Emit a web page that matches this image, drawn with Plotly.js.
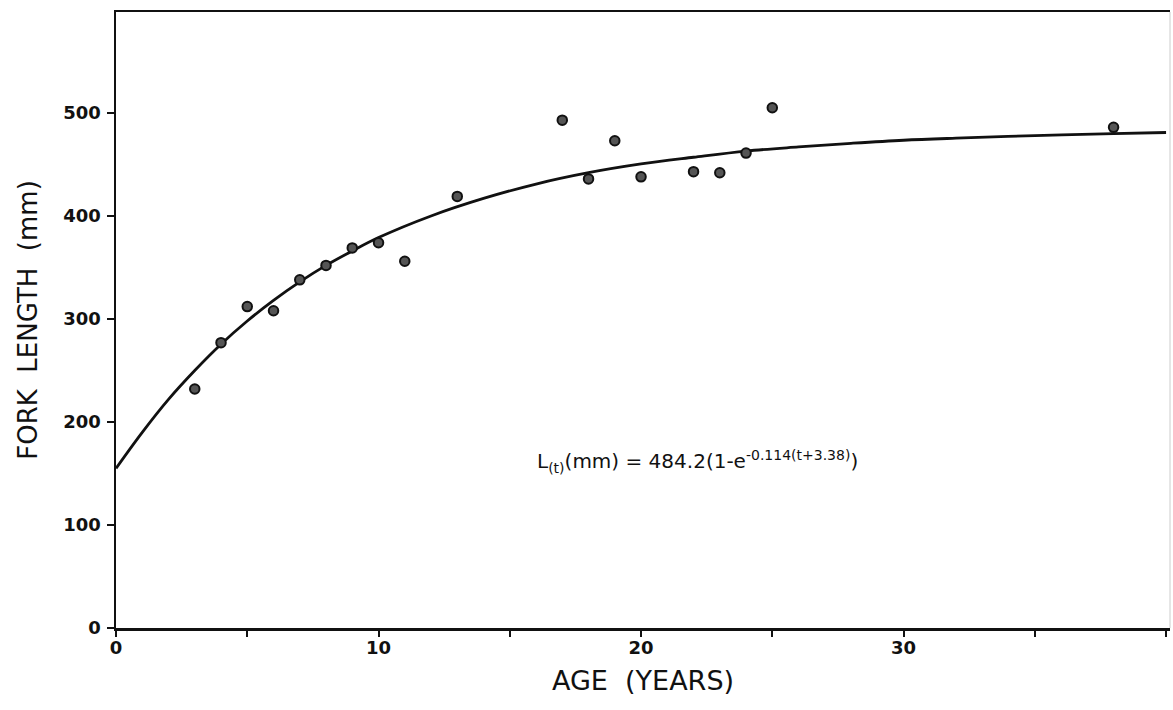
<!DOCTYPE html>
<html>
<head>
<meta charset="utf-8">
<script src="https://cdn.plot.ly/plotly-3.0.1.min.js"></script>
<style>html,body{margin:0;padding:0;background:#fff;}#chart{width:1173px;height:710px;}</style>
</head>
<body>
<div id="chart"></div>
<script>
var ageObs = [3, 4, 5, 6, 7, 8, 9, 10, 11, 13, 17, 18, 19, 20, 22, 23, 24, 25, 38];
var lenObs = [232, 277, 312, 308, 338, 352, 369, 374, 356, 419, 493, 436, 473, 438, 443, 442, 461, 505, 486];

// Fitted growth curve
var ageFit = [0, 1, 2, 3, 4, 5, 6, 7, 8, 9, 10, 12, 14, 16, 18, 20, 22, 24, 26, 28, 30, 32, 35, 38, 40];
var lenFit = [155, 190, 222, 250, 275.5, 298, 318, 336, 352, 366, 379, 400, 417, 431, 442, 450.5, 457, 463, 467, 470.5, 473.5, 475.5, 478, 480, 481];

var xTickVals = [0, 10, 20, 30];
var yTickVals = [0, 100, 200, 300, 400, 500];

var fnt = "'DejaVu Sans', sans-serif";

var traces = [
  {x: ageFit, y: lenFit, type: 'scatter', mode: 'lines', line: {color: '#111', width: 2.8, shape: 'spline'}, hoverinfo: 'skip', showlegend: false},
  {x: ageObs, y: lenObs, type: 'scatter', mode: 'markers', marker: {size: 9.5, color: '#555', line: {color: '#111', width: 2}}, showlegend: false}
];

var layout = {
  width: 1173, height: 710,
  margin: {l: 116, r: 3, t: 12, b: 82},
  paper_bgcolor: '#fff', plot_bgcolor: '#fff',
  font: {family: fnt, color: '#111'},
  xaxis: {
    range: [0, 40.15], tickvals: xTickVals, ticks: 'outside', ticklen: 6, tickwidth: 2, tickcolor: '#111',
    minor: {dtick: 5, tick0: 5, ticks: 'outside', ticklen: 6, tickwidth: 2, tickcolor: '#111', showgrid: false},
    showgrid: false, zeroline: false, showline: true, linecolor: '#111', linewidth: 2.5, mirror: true,
    tickfont: {size: 18, family: fnt, weight: 'bold'}, ticklabelstandoff: -4,
    title: {text: 'AGE  (YEARS)', font: {size: 27, family: fnt}, standoff: 14}
  },
  yaxis: {
    range: [0, 598], tickvals: yTickVals, ticks: 'outside', ticklen: 7, tickwidth: 2, tickcolor: '#111',
    showgrid: false, zeroline: false, showline: true, linecolor: '#111', linewidth: 2.5,
    tickfont: {size: 18, family: fnt, weight: 'bold'}, ticklabelstandoff: 2,
    title: {text: 'FORK  LENGTH  (mm)', font: {size: 26, family: fnt}, standoff: 18}
  },
  shapes: [
    {type: 'line', xref: 'paper', yref: 'paper', x0: 1, x1: 1, y0: 0, y1: 1, line: {color: '#ccc', width: 1}}
  ],
  annotations: [
    {x: 0.552, y: 0.27, xref: 'paper', yref: 'paper', showarrow: false, xanchor: 'center', yanchor: 'middle',
     text: 'L<sub>(t)</sub>(mm) = 484.2(1-e<sup>-0.114(t+3.38)</sup>)', font: {size: 20, family: fnt, color: '#111'}}
  ]
};

Plotly.newPlot('chart', traces, layout, {displayModeBar: false, staticPlot: true});
</script>
</body>
</html>
